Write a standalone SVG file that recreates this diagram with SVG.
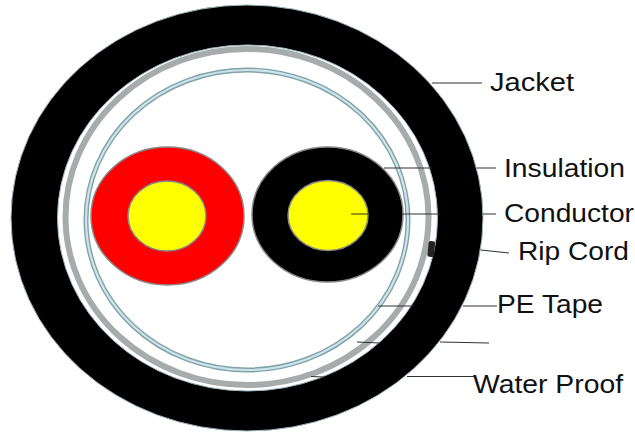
<svg xmlns="http://www.w3.org/2000/svg" width="635" height="432" viewBox="0 0 635 432">
<style>
.lbl{font-family:"Liberation Sans",Arial,sans-serif;font-size:26px;fill:#111}
.ld{stroke:#333;stroke-width:1.2;fill:none}
.core{stroke:#888;stroke-width:1.5}
</style>
<rect width="635" height="432" fill="#fff"/>
<g id="jacket"><ellipse cx="247" cy="218" rx="236" ry="213" fill="#000" stroke="#9fb8bd" stroke-width="1"/>
<ellipse cx="247.500" cy="218" rx="190" ry="173" fill="#fff" stroke="#9fb8bd" stroke-width="1"/></g>
<g id="water-proof"><ellipse cx="247" cy="217" rx="181.500" ry="168" fill="none" stroke="#a6abac" stroke-width="6"/></g>
<g id="pe-tape"><ellipse cx="247" cy="220" rx="161" ry="150" fill="none" stroke="#7fa3ab" stroke-width="5"/>
<ellipse cx="247" cy="220" rx="161" ry="150" fill="none" stroke="#cfe4e8" stroke-width="2.200"/></g>
<g id="rip-cord"><rect x="428" y="241" width="6.500" height="16" rx="2" fill="#222" transform="rotate(6 431 249)"/></g>
<g id="core-red"><ellipse cx="167.500" cy="216" rx="76.500" ry="69" fill="#f00" class="core"/>
<ellipse cx="167" cy="216" rx="39" ry="35" fill="#ff0" class="core"/></g>
<g id="core-black"><ellipse cx="327.500" cy="214.500" rx="75.500" ry="67.500" fill="#000" class="core"/>
<ellipse cx="328" cy="215.500" rx="40" ry="35" fill="#ff0" class="core"/></g>
<g id="connectors">
<path class="ld" d="M432 83H482"/>
<path class="ld" d="M384 168H432M477 168H496"/>
<path class="ld" d="M351 214H368M403 214H440M483 214H496"/>
<path class="ld" d="M481 250L509 253"/>
<path class="ld" d="M378 306H414M463 306H497"/>
<path class="ld" d="M357 342L380 343M440 342L489 343"/>
<path class="ld" d="M311 376.500L325 377M407 376.500H474"/>
</g>
<g id="labels">
<text class="lbl" x="490" y="91" textLength="84" lengthAdjust="spacingAndGlyphs">Jacket</text>
<text class="lbl" x="504" y="177" textLength="121" lengthAdjust="spacingAndGlyphs">Insulation</text>
<text class="lbl" x="504" y="222" textLength="130" lengthAdjust="spacingAndGlyphs">Conductor</text>
<text class="lbl" x="518" y="260" textLength="111" lengthAdjust="spacingAndGlyphs">Rip Cord</text>
<text class="lbl" x="497" y="313" textLength="106" lengthAdjust="spacingAndGlyphs">PE Tape</text>
<text class="lbl" x="473" y="393" textLength="150" lengthAdjust="spacingAndGlyphs">Water Proof</text>
</g>
</svg>
